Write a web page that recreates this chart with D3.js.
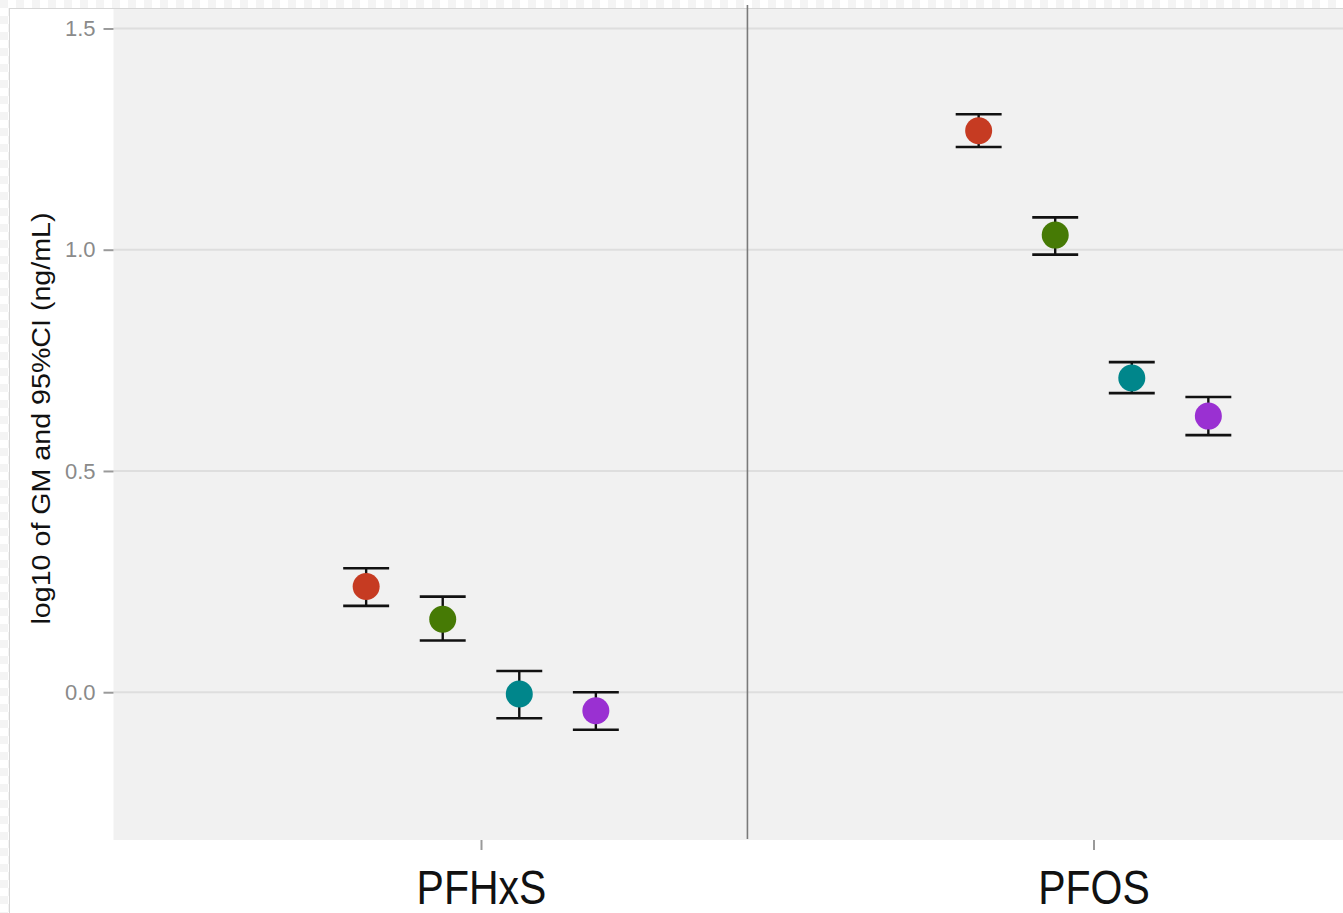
<!DOCTYPE html>
<html>
<head>
<meta charset="utf-8">
<script src="https://cdn.jsdelivr.net/npm/d3@7"></script>
<style>
  html, body { margin: 0; padding: 0; background: #fff; }
  svg { display: block; font-family: "Liberation Sans", Arial, sans-serif; }
</style>
</head>
<body>
<svg id="chart" width="1343" height="913"></svg>
<script>
// Compounds on the x axis
const categories = ["PFHxS", "PFOS"];
// Four subgroups, dodged within each compound
const groups = ["G1", "G2", "G3", "G4"];
const groupColors = ["#C63B22", "#467A05", "#00868B", "#9A30D2"];

// log10 geometric means and 95% CI bounds, one entry per subgroup
const pfhxsGM    = [0.239, 0.165, -0.004, -0.042];
const pfhxsLower = [0.195, 0.117, -0.059, -0.085];
const pfhxsUpper = [0.280, 0.216,  0.048,  0.000];

const pfosGM     = [1.269, 1.033, 0.710, 0.624];
const pfosLower  = [1.232, 0.989, 0.676, 0.581];
const pfosUpper  = [1.306, 1.073, 0.746, 0.667];

const yTicks = [0.0, 0.5, 1.0, 1.5];
const yDomain = [-0.334, 1.544];
const dividerAt = 1.435;   // position of the separating rule, in category units (1 = first)
const yTitle = "log10 of GM and 95%CI (ng/mL)";

const series = [
  { cat: "PFHxS", gm: pfhxsGM, lo: pfhxsLower, hi: pfhxsUpper },
  { cat: "PFOS",  gm: pfosGM,  lo: pfosLower,  hi: pfosUpper }
];
const rows = [];
series.forEach(s => groups.forEach((g, i) => rows.push({
  cat: s.cat, group: g, idx: i, gm: s.gm[i], lo: s.lo[i], hi: s.hi[i]
})));

const W = 1343, H = 913;
const panel = { left: 113.5, top: 9, bottom: 840, right: 1461 };

const svg = d3.select("#chart");

// transparent-canvas checker outside the figure frame
const defs = svg.append("defs");
const pat = defs.append("pattern").attr("id", "checker")
  .attr("width", 16).attr("height", 16).attr("patternUnits", "userSpaceOnUse");
pat.append("rect").attr("width", 16).attr("height", 16).attr("fill", "#ffffff");
pat.append("rect").attr("width", 8).attr("height", 8).attr("fill", "#f4f4f4");
pat.append("rect").attr("x", 8).attr("y", 8).attr("width", 8).attr("height", 8).attr("fill", "#f4f4f4");
svg.append("rect").attr("width", W).attr("height", H).attr("fill", "url(#checker)");
svg.append("rect").attr("x", 9.5).attr("y", 8.5).attr("width", W).attr("height", H)
  .attr("fill", "#fff").attr("stroke", "#d6d6d6").attr("stroke-width", 1);

const x = d3.scalePoint().domain(categories).range([panel.left, panel.right]).padding(0.6);
const step = x.step();
const xCat = d3.scaleLinear().domain([1, 2]).range([x(categories[0]), x(categories[1])]);
const y = d3.scaleLinear().domain(yDomain).range([panel.bottom, panel.top]);

const dodgeWidth = 0.5;
const barWidth = 0.3 / groups.length;
const dodge = i => (i - (groups.length - 1) / 2) * (dodgeWidth / groups.length) * step;

// panel background
svg.append("rect")
  .attr("x", panel.left).attr("y", panel.top)
  .attr("width", panel.right - panel.left).attr("height", panel.bottom - panel.top)
  .attr("fill", "#f1f1f1");

// horizontal gridlines
svg.append("g").selectAll("line").data(yTicks).join("line")
  .attr("x1", panel.left).attr("x2", panel.right)
  .attr("y1", d => y(d)).attr("y2", d => y(d))
  .attr("stroke", "#dedede").attr("stroke-width", 2);

// separating rule between the compounds
svg.append("line")
  .attr("x1", xCat(dividerAt)).attr("x2", xCat(dividerAt))
  .attr("y1", panel.top - 4).attr("y2", panel.bottom - 1)
  .attr("stroke", "#7a7a7a").attr("stroke-width", 1.6);

// y axis
const yAxis = d3.axisLeft(y).tickValues(yTicks).tickFormat(d3.format(".1f")).tickSize(10).tickPadding(8);
const gy = svg.append("g").attr("transform", `translate(${panel.left},0)`).call(yAxis);
gy.select(".domain").remove();
gy.selectAll(".tick line").attr("stroke", "#9a9a9a").attr("stroke-width", 2);
gy.selectAll(".tick text").attr("fill", "#8a8a8a").attr("font-size", 22)
  .attr("font-family", "Liberation Sans, Arial, sans-serif");

// x axis
const xAxis = d3.axisBottom(x).tickSize(10).tickPadding(16);
const gx = svg.append("g").attr("transform", `translate(0,${panel.bottom})`).call(xAxis);
gx.select(".domain").remove();
gx.selectAll(".tick line").attr("stroke", "#9a9a9a").attr("stroke-width", 2);
gx.selectAll(".tick text").remove();
gx.selectAll(".tick").append("text")
  .attr("text-anchor", "middle")
  .attr("transform", "translate(0,64) scale(1,1.15)")
  .attr("fill", "#111").attr("font-size", 41)
  .attr("font-family", "Liberation Sans, Arial, sans-serif")
  .text(d => d);

// y title
svg.append("text")
  .attr("transform", `translate(50,${(panel.top + panel.bottom) / 2 - 6}) rotate(-90)`)
  .attr("text-anchor", "middle")
  .attr("font-size", 26)
  .attr("textLength", 412).attr("lengthAdjust", "spacingAndGlyphs")
  .attr("fill", "#111")
  .text(yTitle);

// error bars
const eb = svg.append("g").selectAll("g").data(rows).join("g")
  .attr("transform", d => `translate(${x(d.cat) + dodge(d.idx)},0)`);
const hw = barWidth * step / 2;
eb.append("line").attr("x1", 0).attr("x2", 0)
  .attr("y1", d => y(d.hi)).attr("y2", d => y(d.lo))
  .attr("stroke", "#111").attr("stroke-width", 2.4);
eb.append("line").attr("x1", -hw).attr("x2", hw)
  .attr("y1", d => y(d.hi)).attr("y2", d => y(d.hi))
  .attr("stroke", "#111").attr("stroke-width", 2.6);
eb.append("line").attr("x1", -hw).attr("x2", hw)
  .attr("y1", d => y(d.lo)).attr("y2", d => y(d.lo))
  .attr("stroke", "#111").attr("stroke-width", 2.6);

// geometric-mean points
eb.append("circle")
  .attr("cx", 0).attr("cy", d => y(d.gm)).attr("r", 13.5)
  .attr("fill", d => groupColors[d.idx]);
</script>
</body>
</html>
